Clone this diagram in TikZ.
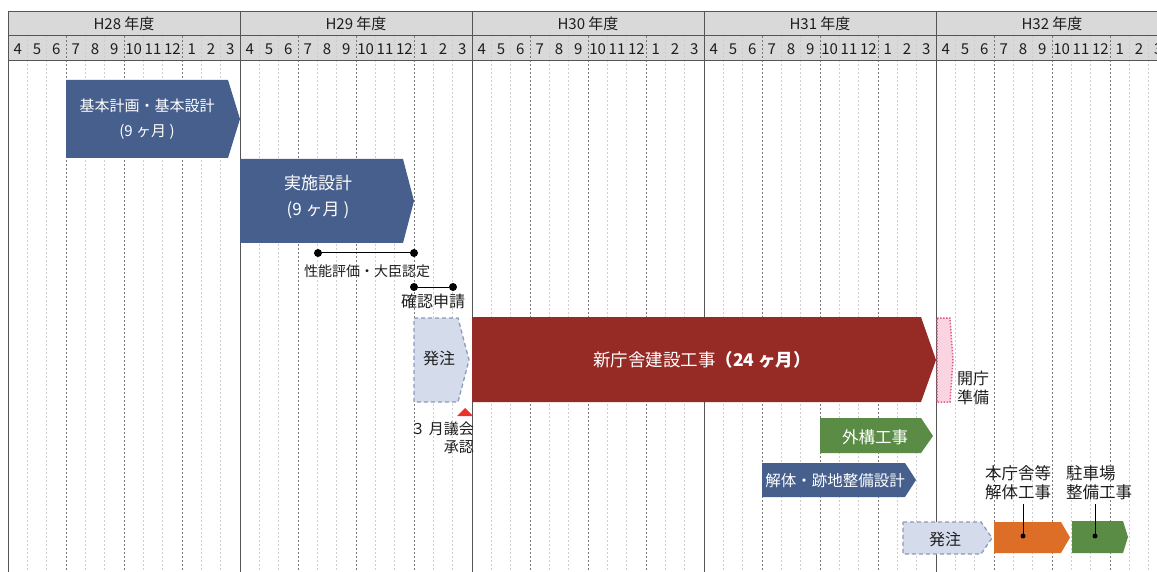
\documentclass[tikz,border=0pt]{standalone}
\usepackage{fontspec}
\setmainfont{Noto Sans CJK JP}
\usetikzlibrary{calc}
\definecolor{hdrgray}{RGB}{217,217,217}
\definecolor{gridline}{RGB}{85,85,85}
\definecolor{qgray}{RGB}{120,120,120}
\definecolor{mgray}{RGB}{205,205,205}
\definecolor{barblue}{RGB}{70,95,140}
\definecolor{barred}{RGB}{150,42,37}
\definecolor{bargreen}{RGB}{90,140,70}
\definecolor{barorange}{RGB}{220,110,40}
\definecolor{ordfill}{RGB}{212,220,236}
\definecolor{ordline}{RGB}{140,155,185}
\definecolor{pinkfill}{RGB}{250,212,225}
\definecolor{pinkline}{RGB}{230,90,130}
\definecolor{trired}{RGB}{235,50,40}
\definecolor{txt}{RGB}{30,30,30}
\tikzset{
  yearline/.style={draw=gridline,line width=1pt},
  qline/.style={draw=qgray,line width=0.7pt,dash pattern=on 2pt off 2pt},
  mline/.style={draw=mgray,line width=0.6pt,dash pattern=on 2pt off 2pt},
  yearlbl/.style={font=\fontsize{15}{17}\selectfont,text=txt,inner sep=0pt},
  monlbl/.style={font=\fontsize{15}{17}\selectfont,text=txt,inner sep=0pt},
  bartxt/.style={text=white,inner sep=0pt,align=center},
  lbl/.style={text=txt,inner sep=0pt,font=\fontsize{16}{19}\selectfont},
  dotnode/.style={circle,fill=black,inner sep=0pt,minimum size=8pt},
  smalldot/.style={circle,fill=black,inner sep=0pt,minimum size=5pt},
  ordbox/.style={fill=ordfill,draw=ordline,line width=1.3pt,dash pattern=on 4pt off 3pt},
  pinkbox/.style={fill=pinkfill,draw=pinkline,line width=1.5pt,dash pattern=on 1.5pt off 1.5pt},
}
\begin{document}
\begin{tikzpicture}[x=1pt,y=-1pt]
\useasboundingbox (0,0) rectangle (1157,572);
\fill[white] (0,0) rectangle (1157,572);
\begin{scope}
\clip (0,0) rectangle (1157,572);
% header background
\fill[hdrgray] (8,12) rectangle (1168,61);
% month lines
\foreach \m in {1,...,59}{
  \pgfmathsetmacro\xx{8+\m*232/12}
  \pgfmathtruncatemacro\r{mod(\m,12)}
  \pgfmathtruncatemacro\q{mod(\m,3)}
  \ifnum\r=0
    \draw[yearline] (\xx,12) -- (\xx,572);
  \else
    \ifnum\q=0
      \draw[qline] (\xx,36) -- (\xx,572);
    \else
      \draw[mline] (\xx,36) -- (\xx,572);
    \fi
  \fi
}
\draw[yearline] (8,12) -- (1168,12);
\draw[yearline] (8,36) -- (1168,36);
\draw[yearline] (8,61) -- (1168,61);
\draw[yearline] (8,12) -- (8,572);
% year labels
\foreach \yr [count=\i from 0] in {28,29,30,31,32}
  \node[yearlbl] (y\yr) at ({124+232*\i},24) {H\yr\ 年度};
% month labels
\foreach \m in {0,...,59}{
  \pgfmathtruncatemacro\mn{mod(\m+3,12)+1}
  \node[monlbl] (m\m) at ({8+(\m+0.5)*232/12},49) {\mn};
}
\end{scope}

% bar 1
\fill[barblue] (66,80) -- (228,80) -- (240,119) -- (228,158) -- (66,158) -- cycle;
\node[bartxt,font=\fontsize{15}{25}\selectfont] (kihon) at (147,119.5) {基本計画・基本設計\\(9 ヶ月 )};
% bar 2
\fill[barblue] (240,159) -- (403,159) -- (414,201) -- (403,243) -- (240,243) -- cycle;
\node[bartxt,font=\fontsize{17}{26}\selectfont] (jissi) at (318,197) {実施設計\\(9 ヶ月 )};
% performance evaluation
\node[dotnode] (pa) at (318,253) {};
\node[dotnode] (pb) at (414,253) {};
\draw[line width=1pt] (pa) -- (pb);
\node[lbl,font=\fontsize{14}{16}\selectfont] (seino) at (367,271) {性能評価・大臣認定};
% confirmation application
\node[dotnode] (ka) at (414,287) {};
\node[dotnode] (kb) at (453,287) {};
\draw[line width=1pt] (ka) -- (kb);
\node[lbl] (kakunin) at (433,301) {確認申請};
% order 1
\filldraw[ordbox] (414,318) -- (458,318) -- (469,360) -- (458,402) -- (414,402) -- cycle;
\node[lbl] (hatchu1) at (439,358) {発注};
% red triangle and label
\fill[trired] (465,408) -- (473,416) -- (457,416) -- cycle;
\node[lbl,align=right,anchor=east,font=\fontsize{15}{18}\selectfont] (gikai) at (474,438) {３ 月議会\\承認};
% main construction
\fill[barred] (472,317) -- (921,317) -- (936,360) -- (921,402) -- (472,402) -- cycle;
\node[bartxt,font=\fontsize{17.5}{20}\selectfont] (shincho) at (702,360) {新庁舎建設工事\textbf{（24 ヶ月）}};
% opening preparation
\filldraw[pinkbox] (937,318) -- (950,318) -- (953,360) -- (950,402) -- (937,402) -- cycle;
\node[lbl,align=left,anchor=west,font=\fontsize{16}{19}\selectfont] (kaicho) at (957,387.5) {開庁\\準備};
% exterior works
\fill[bargreen] (820,418) -- (921,418) -- (933,436) -- (921,453) -- (820,453) -- cycle;
\node[bartxt,font=\fontsize{16.5}{19}\selectfont] (gaiko) at (875,437) {外構工事};
% demolition design
\fill[barblue] (762,463) -- (905,463) -- (916,480) -- (905,497) -- (762,497) -- cycle;
\node[bartxt,font=\fontsize{15.5}{18}\selectfont] (kaitai) at (835,481) {解体・跡地整備設計};
% order 2
\filldraw[ordbox] (903,522) -- (981,522) -- (992,538) -- (981,554) -- (903,554) -- cycle;
\node[lbl] (hatchu2) at (945,539) {発注};
% demolition works
\fill[barorange] (994,522) -- (1061,522) -- (1070,537.5) -- (1061,553) -- (994,553) -- cycle;
\node[smalldot] (odot) at (1023,536) {};
\node[lbl,align=center,font=\fontsize{16.5}{19}\selectfont] (honcho) at (1018,483) {本庁舎等\\解体工事};
\draw[line width=0.8pt] (odot.center) -- ($(odot |- honcho.south)+(0,4)$);
% parking works
\fill[bargreen] (1072,521) -- (1123,521) -- (1128,537) -- (1123,553) -- (1072,553) -- cycle;
\node[smalldot] (gdot) at (1095,536) {};
\node[lbl,align=left,anchor=west,font=\fontsize{16.5}{19}\selectfont] (chusha) at (1066,483) {駐車場\\整備工事};
\draw[line width=0.8pt] (gdot.center) -- ($(gdot |- chusha.south)+(0,4)$);
\end{tikzpicture}
\end{document}
